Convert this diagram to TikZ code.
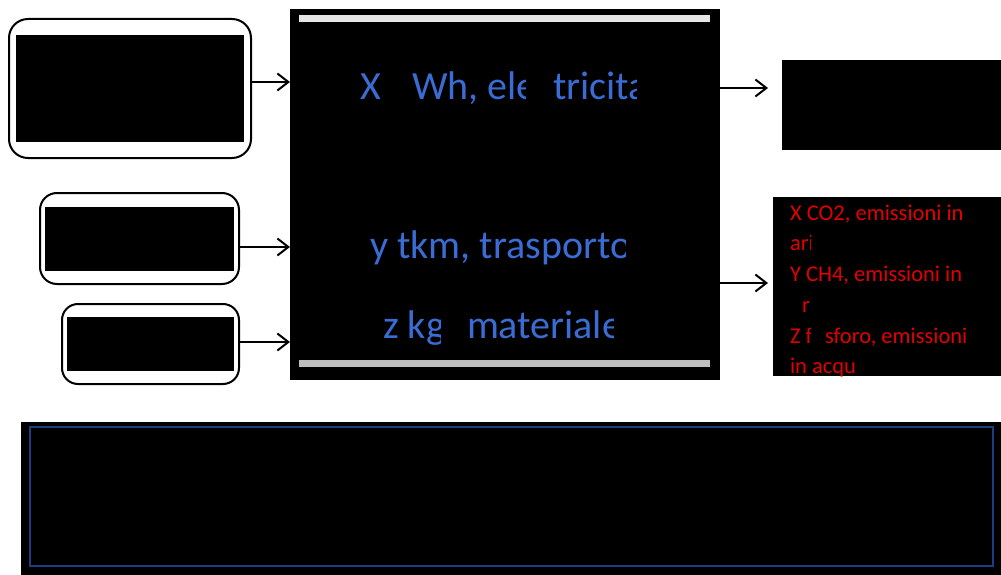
\documentclass[tikz,border=0pt]{standalone}
\usepackage{fontspec}
\setmainfont{Carlito}
\usetikzlibrary{arrows.meta}
\definecolor{txtblue}{RGB}{58,108,212}
\definecolor{txtred}{RGB}{228,0,0}
\definecolor{lineblue}{RGB}{30,60,130}
\definecolor{bartop}{RGB}{230,230,230}
\definecolor{barbot}{RGB}{190,190,190}
\begin{document}
\begin{tikzpicture}[x=1pt,y=-1pt,
  srcbox/.style={draw=black,line width=2pt,fill=white,rounded corners=19pt,inner sep=0pt,outer sep=0pt},
  blk/.style={fill=black,inner sep=0pt,outer sep=0pt},
  bar/.style={inner sep=0pt,outer sep=0pt,minimum width=411pt,minimum height=7pt},
  arr/.style={line width=2pt,-{Straight Barb[length=11pt,width=17pt]}},
  btxt/.style={text=txtblue,font=\fontsize{40}{48}\selectfont,inner sep=0pt,outer sep=0pt,anchor=base west},
  rtxt/.style={text=txtred,font=\fontsize{22.5}{27}\selectfont,inner sep=0pt,outer sep=0pt,anchor=base west}]
\useasboundingbox (0,0) rectangle (1001,575);
\fill[white] (0,0) rectangle (1001,575);
% left source boxes
\node[srcbox,minimum width=242pt,minimum height=139pt] (b1) at (130,88.5) {};
\node[blk,minimum width=228pt,minimum height=107pt] (b1i) at (130,88.5) {};
\node[srcbox,rounded corners=17pt,minimum width=199pt,minimum height=91pt] (b2) at (139.5,238.5) {};
\node[blk,minimum width=189pt,minimum height=64pt] (b2i) at (139.5,239) {};
\node[srcbox,rounded corners=16pt,minimum width=177pt,minimum height=80pt] (b3) at (150.5,344) {};
\node[blk,minimum width=167pt,minimum height=54pt] (b3i) at (150.5,344) {};
% main process box
\node[blk,minimum width=430pt,minimum height=371pt] (main) at (505,194.5) {};
\node[bar,fill=bartop] (bt) at (504.5,18.5) {};
\node[bar,fill=barbot] (bb) at (504.5,363.5) {};
% right boxes
\node[blk,minimum width=219pt,minimum height=90pt] (r1) at (891.5,105) {};
\node[blk,minimum width=228pt,minimum height=179pt] (r2) at (887,286.5) {};
% bottom box
\node[blk,minimum width=980pt,minimum height=153pt] (bot) at (511,498.5) {};
\node[draw=lineblue,line width=1.5pt,inner sep=0pt,outer sep=0pt,minimum width=963pt,minimum height=139pt] (boti) at (511.5,496.5) {};
% arrow levels
\coordinate (y1) at (0,82);
\coordinate (y2) at (0,247);
\coordinate (y3) at (0,342);
\coordinate (y4) at (0,88);
\coordinate (y5) at (0,283);
\draw[arr] (b1.east |- y1) -- (main.west |- y1);
\draw[arr] (b2.east |- y2) -- (main.west |- y2);
\draw[arr] (b3.east |- y3) -- (main.west |- y3);
\draw[arr] (main.east |- y4) -- ([xshift=-14pt]r1.west |- y4);
\draw[arr] (main.east |- y5) -- ([xshift=-5pt]r2.west |- y5);
% blue texts
\node[btxt] (m1a) at (360,100) {X};
\begin{scope}
\clip (400,60) rectangle (525,120);
\node[btxt] (m1b) at (412,100) {Wh, ele};
\end{scope}
\begin{scope}
\clip (545,60) rectangle (636,120);
\node[btxt] (m1c) at (553,100) {tricita};
\end{scope}
\begin{scope}
\clip (360,215) rectangle (625,275);
\node[btxt] (m2) at (370,258) {y tkm, trasporto};
\end{scope}
\begin{scope}
\clip (375,295) rectangle (440,355);
\node[btxt] (m3a) at (383,338) {z kg};
\end{scope}
\begin{scope}
\clip (460,295) rectangle (613,355);
\node[btxt] (m3b) at (467,338) {materiale};
\end{scope}
% red texts
\node[rtxt] (e1) at (790,220) {X CO2, emissioni in};
\begin{scope}
\clip (785,225) rectangle (810,260);
\node[rtxt] (e2) at (790,250) {ari};
\end{scope}
\node[rtxt] (e3) at (790,281) {Y CH4, emissioni in};
\node[rtxt] (e4) at (802,312) {r};
\begin{scope}
\clip (785,320) rectangle (810,350);
\node[rtxt] (e5a) at (790,343) {Z f};
\end{scope}
\node[rtxt] (e5b) at (825,343) {sforo, emissioni};
\begin{scope}
\clip (785,350) rectangle (856,376);
\node[rtxt] (e6) at (790,373) {in acqu};
\end{scope}
\end{tikzpicture}
\end{document}
